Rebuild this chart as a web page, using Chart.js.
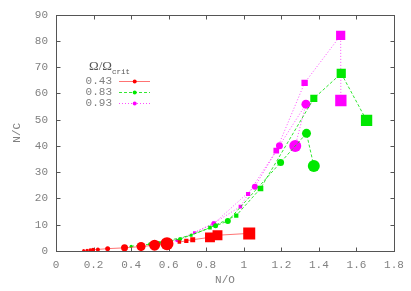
<!DOCTYPE html>
<html>
<head>
<meta charset="utf-8">
<script src="https://cdn.jsdelivr.net/npm/chart.js@4/dist/chart.umd.min.js"></script>
<style>
  html, body { margin: 0; padding: 0; background: #fff; }
  #wrap { width: 411px; height: 291px; }
</style>
</head>
<body>
<div id="wrap"><canvas id="chart"></canvas></div>
<script>
// ---- data ----
const xTicks = [0, 0.2, 0.4, 0.6, 0.8, 1, 1.2, 1.4, 1.6, 1.8];
const yTicks = [0, 10, 20, 30, 40, 50, 60, 70, 80, 90];
const omegaLabels = ['0.43', '0.83', '0.93'];

// Ω/Ωcrit = 0.43
const redCircX = [0.147, 0.165, 0.182, 0.197, 0.223, 0.275, 0.365, 0.453, 0.525, 0.591];
const redCircY = [0.2, 0.3, 0.4, 0.5, 0.6, 0.9, 1.2, 1.7, 2.2, 2.8];
const redCircR = [1.5, 1.5, 1.8, 2, 2, 2.5, 3.5, 4.5, 5.5, 6.5];
const redSqX = [0.657, 0.694, 0.728, 0.82, 0.86, 1.029];
const redSqY = [3.4, 3.9, 4.3, 5.2, 6.0, 6.7];
const redSqR = [2.5, 3, 3.5, 7, 7, 8.5];

// Ω/Ωcrit = 0.83
const grnCircX = [0.40, 0.50, 0.66, 0.85, 0.915, 1.196, 1.334, 1.373];
const grnCircY = [1.8, 2.6, 4.5, 9.6, 11.4, 33.7, 44.8, 32.4];
const grnCircR = [1.5, 1.8, 2, 2.5, 3, 3.5, 4.5, 6];
const grnSqX = [0.55, 0.72, 0.82, 0.96, 1.089, 1.373, 1.519, 1.654];
const grnSqY = [3.2, 6.0, 8.9, 13.5, 23.8, 58.1, 67.6, 49.7];
const grnSqR = [2, 2, 2.5, 3, 4, 5, 6.5, 8];

// Ω/Ωcrit = 0.93
const magCircX = [0.52, 0.645, 0.84, 1.059, 1.19, 1.331, 1.274];
const magCircY = [3.0, 4.0, 10.4, 24.5, 40.1, 55.9, 40.0];
const magCircR = [1.5, 1.8, 2.5, 3, 3.5, 4.5, 6];
const magSqX = [0.737, 0.84, 0.982, 1.023, 1.173, 1.324, 1.516, 1.517];
const magSqY = [7.0, 10.6, 16.9, 21.7, 38.2, 64.0, 82.1, 57.3];
const magSqR = [2, 2.5, 2.5, 3, 4, 4.5, 6.5, 8];

const colors = ['#ff0000', '#00e800', '#ff00ff'];
const lineColors = ['rgba(255,0,0,0.55)', 'rgba(0,225,0,0.8)', 'rgba(255,0,255,0.7)'];
const dashes = [[], [3, 2], [1, 2]];

const pts = (xs, ys) => xs.map((x, i) => ({ x: x, y: ys[i] }));

function track(xs, ys, rs, k, style) {
  return {
    data: pts(xs, ys),
    showLine: true,
    borderColor: lineColors[k],
    borderWidth: 1,
    borderDash: dashes[k],
    backgroundColor: colors[k],
    pointBackgroundColor: colors[k],
    pointBorderWidth: 0,
    pointRadius: rs,
    pointHoverRadius: rs,
    pointStyle: style,
    tension: 0
  };
}

const datasets = [
  track(redCircX, redCircY, redCircR, 0, 'circle'),
  track(redSqX, redSqY, redSqR, 0, 'rect'),
  track(grnCircX, grnCircY, grnCircR, 1, 'circle'),
  track(grnSqX, grnSqY, grnSqR, 1, 'rect'),
  track(magCircX, magCircY, magCircR, 2, 'circle'),
  track(magSqX, magSqY, magSqR, 2, 'rect')
];

const textGray = '#808080';
const monoFont = { family: 'Liberation Mono, DejaVu Sans Mono, monospace', size: 11 };

// gnuplot style box with inward ticks on all four sides
const frame = {
  id: 'frame',
  beforeDatasetsDraw(chart) {
    const { ctx, chartArea: a, scales: { x, y } } = chart;
    const L = Math.round(a.left) + 0.5, R = Math.round(a.right) + 0.5;
    const T = Math.round(a.top) + 0.5, B = Math.round(a.bottom) + 0.5;
    ctx.save();
    ctx.strokeStyle = '#555';
    ctx.lineWidth = 1;
    ctx.strokeRect(L, T, R - L, B - T);
    ctx.beginPath();
    xTicks.forEach(v => {
      const px = Math.round(x.getPixelForValue(v)) + 0.5;
      ctx.moveTo(px, B); ctx.lineTo(px, B - 4);
      ctx.moveTo(px, T); ctx.lineTo(px, T + 4);
    });
    yTicks.forEach(v => {
      const py = Math.round(y.getPixelForValue(v)) + 0.5;
      ctx.moveTo(L, py); ctx.lineTo(L + 4, py);
      ctx.moveTo(R, py); ctx.lineTo(R - 4, py);
    });
    ctx.stroke();
    ctx.restore();
  }
};

// legend: Ω/Ωcrit title + three entries
const keyBox = {
  id: 'keyBox',
  afterDatasetsDraw(chart) {
    const ctx = chart.ctx;
    ctx.save();
    ctx.fillStyle = '#555';
    ctx.textBaseline = 'alphabetic';
    ctx.textAlign = 'left';
    ctx.font = '13px "Liberation Serif", serif';
    ctx.fillText('Ω/Ω', 89, 69.5);
    const w = ctx.measureText('Ω/Ω').width;
    ctx.font = '7.5px "Liberation Mono", monospace';
    ctx.fillText('crit', 89 + w, 73.5);

    ctx.font = '11px "Liberation Mono", monospace';
    ctx.textAlign = 'right';
    ctx.textBaseline = 'middle';
    omegaLabels.forEach((lab, k) => {
      const yy = 80.7 + k * 11;
      ctx.fillStyle = textGray;
      ctx.fillText(lab, 112, yy);
      ctx.strokeStyle = lineColors[k];
      ctx.lineWidth = 1;
      ctx.setLineDash(dashes[k]);
      ctx.beginPath();
      ctx.moveTo(119, Math.round(yy) + 0.5);
      ctx.lineTo(150, Math.round(yy) + 0.5);
      ctx.stroke();
      ctx.setLineDash([]);
      ctx.fillStyle = colors[k];
      ctx.beginPath();
      ctx.arc(134.7, Math.round(yy) + 0.5, 2, 0, Math.PI * 2);
      ctx.fill();
    });
    ctx.restore();
  }
};

new Chart(document.getElementById('chart'), {
  type: 'scatter',
  data: { datasets: datasets },
  plugins: [frame, keyBox],
  options: {
    responsive: true,
    maintainAspectRatio: false,
    animation: false,
    layout: { padding: { left: 0, right: 17, top: 14, bottom: 0 } },
    plugins: { legend: { display: false }, tooltip: { enabled: false } },
    scales: {
      x: {
        type: 'linear',
        min: 0, max: 1.8,
        afterFit: s => { s.height = 40; },
        afterBuildTicks: s => { s.ticks = xTicks.map(v => ({ value: v })); },
        grid: { display: false, drawTicks: false },
        border: { display: false },
        ticks: {
          color: textGray, font: monoFont, padding: 7, maxRotation: 0,
          callback: v => String(+v.toFixed(1))
        },
        title: { display: true, text: 'N/O', color: textGray, font: monoFont, padding: { top: 0, bottom: 4 } }
      },
      y: {
        type: 'linear',
        min: 0, max: 90,
        afterFit: s => { s.width = 56; },
        afterBuildTicks: s => { s.ticks = yTicks.map(v => ({ value: v })); },
        grid: { display: false, drawTicks: false },
        border: { display: false },
        ticks: { color: textGray, font: monoFont, padding: 8 },
        title: { display: true, text: 'N/C', color: textGray, font: monoFont, padding: { top: 10, bottom: 0 } }
      }
    }
  }
});
</script>
</body>
</html>
